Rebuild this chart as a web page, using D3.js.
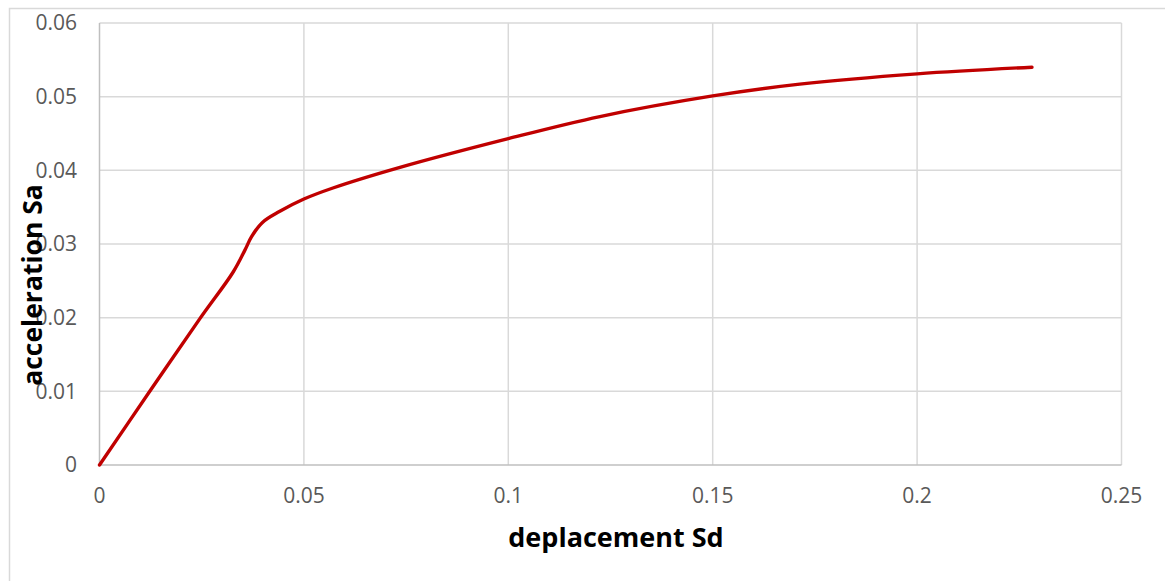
<!DOCTYPE html>
<html>
<head>
<meta charset="utf-8">
<script src="https://cdn.jsdelivr.net/npm/d3@7"></script>
<style>
  html, body { margin: 0; padding: 0; background: #fff; }
  svg { display: block; }
</style>
</head>
<body>
<svg id="chart" width="1165" height="581"></svg>
<script>
// Capacity curve: spectral displacement (Sd) vs spectral acceleration (Sa)
const sd = [0, 0.0123, 0.0246, 0.0327, 0.0356, 0.0372, 0.0398, 0.0440, 0.050, 0.0571, 0.0735, 0.100, 0.1224, 0.150, 0.1713, 0.200, 0.2281];
const sa = [0, 0.0100, 0.0199, 0.0262, 0.0292, 0.0310, 0.0329, 0.0344, 0.0361, 0.0376, 0.0404, 0.0443, 0.0473, 0.0501, 0.0517, 0.0531, 0.0540];

const xTicks = [0, 0.05, 0.1, 0.15, 0.2, 0.25];
const yTicks = [0, 0.01, 0.02, 0.03, 0.04, 0.05, 0.06];

const xTitle = "deplacement Sd";
const yTitle = "acceleration Sa";

const svg = d3.select("#chart");
const plot = { left: 99.5, right: 1121.5, top: 23, bottom: 465 };

const x = d3.scaleLinear().domain([0, 0.25]).range([plot.left, plot.right]);
const y = d3.scaleLinear().domain([0, 0.06]).range([plot.bottom, plot.top]);

// outer chart frame
svg.append("rect")
  .attr("x", 9.5).attr("y", 8.5)
  .attr("width", 1200).attr("height", 600)
  .attr("fill", "none").attr("stroke", "#d9d9d9").attr("stroke-width", 1.5);

const fmt = d => d === 0 ? "0" : String(d);

// vertical gridlines
svg.append("g")
  .selectAll("line").data(xTicks.filter(d => d > 0)).join("line")
  .attr("x1", d => x(d)).attr("x2", d => x(d))
  .attr("y1", plot.top).attr("y2", plot.bottom)
  .attr("stroke", "#d9d9d9").attr("stroke-width", 1.5);

// horizontal gridlines
svg.append("g")
  .selectAll("line").data(yTicks.filter(d => d > 0)).join("line")
  .attr("x1", plot.left).attr("x2", plot.right)
  .attr("y1", d => y(d)).attr("y2", d => y(d))
  .attr("stroke", "#d9d9d9").attr("stroke-width", 1.5);

// axis lines
svg.append("line")
  .attr("x1", plot.left).attr("x2", plot.right)
  .attr("y1", plot.bottom).attr("y2", plot.bottom)
  .attr("stroke", "#bfbfbf").attr("stroke-width", 1.5);
svg.append("line")
  .attr("x1", plot.left).attr("x2", plot.left)
  .attr("y1", plot.top).attr("y2", plot.bottom)
  .attr("stroke", "#bfbfbf").attr("stroke-width", 1.5);

// tick labels
svg.append("g")
  .selectAll("text").data(xTicks).join("text")
  .attr("x", d => x(d)).attr("y", 503)
  .attr("text-anchor", "middle")
  .attr("font-family", "Open Sans, sans-serif").attr("font-size", 21)
  .attr("fill", "#595959")
  .text(fmt);

svg.append("g")
  .selectAll("text").data(yTicks).join("text")
  .attr("x", 77).attr("y", d => y(d))
  .attr("dy", "0.35em")
  .attr("text-anchor", "end")
  .attr("font-family", "Open Sans, sans-serif").attr("font-size", 21)
  .attr("fill", "#595959")
  .text(fmt);

// capacity curve
const pts = sd.map((v, i) => [v, sa[i]]);
svg.append("path")
  .datum(pts)
  .attr("fill", "none")
  .attr("stroke", "#c00000")
  .attr("stroke-width", 3.4)
  .attr("stroke-linecap", "round")
  .attr("stroke-linejoin", "round")
  .attr("d", d3.line().x(d => x(d[0])).y(d => y(d[1])).curve(d3.curveCatmullRom.alpha(0.5)));

// axis titles
svg.append("text")
  .attr("x", 616).attr("y", 547)
  .attr("text-anchor", "middle")
  .attr("font-family", "Open Sans, sans-serif").attr("font-weight", "bold").attr("font-size", 27)
  .attr("fill", "#000")
  .text(xTitle);

svg.append("text")
  .attr("transform", "translate(42,285) rotate(-90)")
  .attr("text-anchor", "middle")
  .attr("font-family", "Open Sans, sans-serif").attr("font-weight", "bold").attr("font-size", 26.5)
  .attr("fill", "#000")
  .text(yTitle);
</script>
</body>
</html>
